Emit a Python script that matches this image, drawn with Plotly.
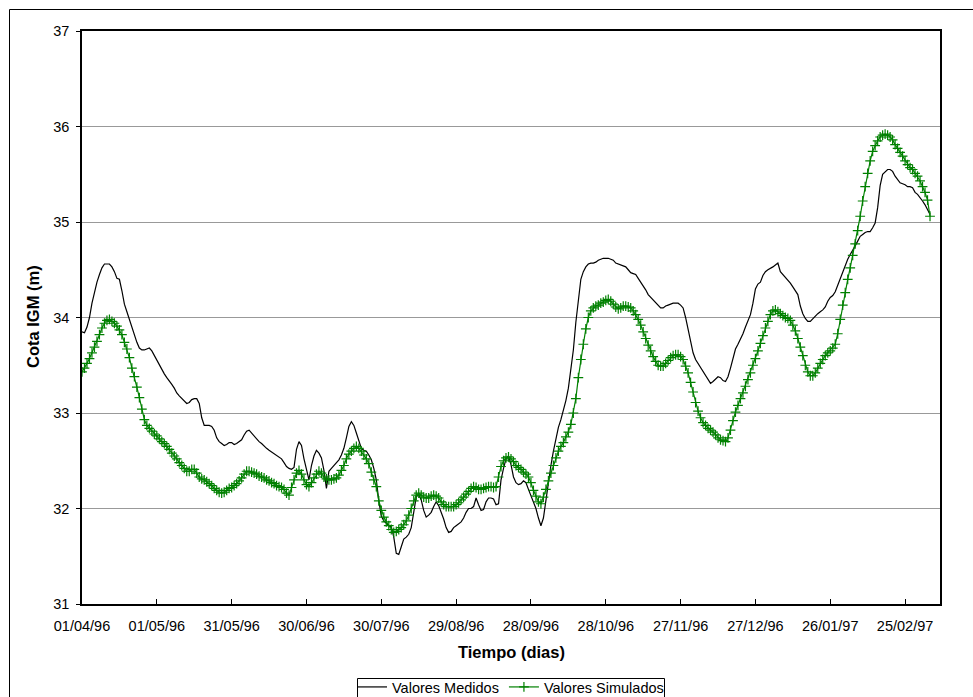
import datetime as dt
import plotly.graph_objects as go

# Daily water level series, starting 01/04/96
start_date = dt.date(1996, 4, 1)

medidos = [
    33.85, 33.84, 33.90, 34.00, 34.15, 34.27, 34.37, 34.45, 34.52, 34.56,
    34.56, 34.56, 34.53, 34.48, 34.41, 34.40, 34.28, 34.14, 34.06, 33.98,
    33.89, 33.81, 33.74, 33.68, 33.66, 33.66, 33.67, 33.68, 33.65, 33.60,
    33.55, 33.51, 33.46, 33.41, 33.37, 33.34, 33.30, 33.26, 33.21, 33.18,
    33.15, 33.12, 33.10, 33.11, 33.14, 33.15, 33.15, 33.10, 32.95, 32.87,
    32.87, 32.87, 32.86, 32.82, 32.74, 32.70, 32.68, 32.66, 32.67, 32.69,
    32.69, 32.67, 32.68, 32.70, 32.72, 32.77, 32.81, 32.82, 32.79, 32.75,
    32.72, 32.70, 32.68, 32.65, 32.63, 32.61, 32.59, 32.58, 32.56, 32.54,
    32.52, 32.48, 32.44, 32.42, 32.41, 32.43, 32.62, 32.70, 32.66, 32.52,
    32.40, 32.30, 32.45, 32.55, 32.61, 32.58, 32.53, 32.40, 32.21, 32.39,
    32.42, 32.45, 32.48, 32.51, 32.56, 32.63, 32.74, 32.86, 32.91, 32.87,
    32.79, 32.70, 32.63, 32.61, 32.60, 32.56, 32.51, 32.42, 32.30, 32.08,
    31.92, 31.87, 31.84, 31.82, 31.81, 31.70, 31.53, 31.52, 31.60, 31.68,
    31.70, 31.73, 31.80, 31.98, 32.12, 32.15, 32.09, 31.98, 31.91, 31.93,
    31.96, 32.02, 32.07, 32.03, 31.97, 31.89, 31.80, 31.75, 31.76, 31.80,
    31.82, 31.84, 31.86, 31.90, 31.96, 32.00, 32.00, 32.02, 32.11, 32.04,
    31.98, 31.99, 32.07, 32.11, 32.11, 32.10, 32.04, 32.05, 32.30, 32.42,
    32.52, 32.55, 32.46, 32.33, 32.27, 32.25, 32.26, 32.29, 32.27, 32.20,
    32.13, 32.07, 32.00, 31.90, 31.82, 31.90, 32.10, 32.30, 32.45, 32.60,
    32.72, 32.85, 32.93, 33.02, 33.13, 33.26, 33.45, 33.66, 33.95, 34.20,
    34.40, 34.48, 34.53, 34.56, 34.57, 34.57, 34.58, 34.60, 34.61, 34.62,
    34.62, 34.62, 34.61, 34.60, 34.57, 34.56, 34.55, 34.54, 34.53, 34.50,
    34.47, 34.46, 34.45, 34.41, 34.37, 34.34, 34.29, 34.24, 34.21, 34.18,
    34.16, 34.12, 34.10, 34.10, 34.12, 34.13, 34.14, 34.15, 34.15, 34.15,
    34.13, 34.10, 34.00, 33.87, 33.75, 33.63, 33.56, 33.52, 33.47, 33.43,
    33.39, 33.35, 33.31, 33.33, 33.36, 33.38, 33.37, 33.34, 33.33, 33.38,
    33.47, 33.58, 33.67, 33.72, 33.77, 33.83, 33.90, 33.96, 34.03, 34.15,
    34.30, 34.35, 34.37, 34.44, 34.48, 34.50, 34.52, 34.53, 34.55, 34.57,
    34.48, 34.45, 34.43, 34.40, 34.36, 34.32, 34.28, 34.24, 34.12, 34.04,
    33.99, 33.96, 33.96, 33.99, 34.02, 34.04, 34.06, 34.08, 34.11, 34.17,
    34.21, 34.23, 34.27, 34.34, 34.40, 34.47, 34.55, 34.61, 34.66, 34.70,
    34.75, 34.80, 34.85, 34.87, 34.89, 34.90, 34.90, 34.94, 34.99, 35.15,
    35.38, 35.50, 35.53, 35.55, 35.55, 35.53, 35.48, 35.44, 35.41, 35.40,
    35.39, 35.37, 35.37, 35.36, 35.31, 35.29, 35.26, 35.22, 35.18, 35.13,
    35.08,
]

simulados = [
    33.43, 33.47, 33.52, 33.57, 33.63, 33.69, 33.75, 33.82, 33.89, 33.94,
    33.97, 33.98, 33.96, 33.94, 33.91, 33.87, 33.82, 33.74, 33.67, 33.58,
    33.47, 33.38, 33.27, 33.16, 33.04, 32.93, 32.87, 32.84, 32.81, 32.78,
    32.76, 32.73, 32.70, 32.68, 32.65, 32.62, 32.58, 32.55, 32.52, 32.48,
    32.45, 32.42, 32.39, 32.39, 32.41, 32.41, 32.37, 32.33, 32.31, 32.30,
    32.28, 32.26, 32.24, 32.21, 32.19, 32.17, 32.16, 32.17, 32.19, 32.21,
    32.22, 32.24, 32.26, 32.29, 32.32, 32.36, 32.39, 32.39, 32.38, 32.37,
    32.36, 32.34, 32.33, 32.32, 32.30, 32.29, 32.27, 32.26, 32.24, 32.23,
    32.22, 32.20, 32.16, 32.14, 32.22, 32.30, 32.37, 32.40, 32.36, 32.30,
    32.25, 32.23, 32.27, 32.32, 32.36, 32.39, 32.37, 32.33, 32.31, 32.30,
    32.30, 32.31, 32.32, 32.35, 32.40, 32.45, 32.52, 32.57, 32.60, 32.63,
    32.65, 32.63, 32.60, 32.56, 32.52, 32.47, 32.38, 32.30, 32.23, 32.08,
    31.98, 31.91, 31.86, 31.82, 31.78, 31.75, 31.76, 31.78, 31.80, 31.83,
    31.87, 31.93, 32.00, 32.08, 32.14, 32.16, 32.14, 32.12, 32.11, 32.11,
    32.13, 32.14, 32.13, 32.11, 32.07, 32.04, 32.02, 32.02, 32.02, 32.02,
    32.04, 32.06, 32.09, 32.12, 32.15, 32.18, 32.21, 32.23, 32.22, 32.20,
    32.20, 32.21, 32.22, 32.23, 32.23, 32.22, 32.23, 32.33, 32.44, 32.50,
    32.53, 32.54, 32.52, 32.49, 32.45, 32.43, 32.41, 32.38, 32.36, 32.33,
    32.27, 32.19, 32.13, 32.07, 32.05, 32.12, 32.20, 32.29, 32.37, 32.45,
    32.53, 32.60, 32.65, 32.69, 32.75, 32.80, 32.88, 33.00, 33.15, 33.37,
    33.56, 33.72, 33.88, 34.00, 34.07, 34.10, 34.12, 34.13, 34.15, 34.16,
    34.18, 34.19, 34.17, 34.14, 34.11, 34.09, 34.10, 34.12, 34.12, 34.11,
    34.10, 34.07, 34.03, 33.98, 33.92, 33.85, 33.78, 33.71, 33.65, 33.59,
    33.54, 33.50, 33.49, 33.49, 33.52, 33.55, 33.58, 33.60, 33.61, 33.61,
    33.59, 33.56, 33.49, 33.42, 33.32, 33.22, 33.11, 33.02, 32.95, 32.90,
    32.87, 32.84, 32.82, 32.80, 32.77, 32.74, 32.72, 32.71, 32.70, 32.74,
    32.82, 32.92, 33.01, 33.08, 33.15, 33.21, 33.28, 33.35, 33.42, 33.50,
    33.57, 33.65, 33.73, 33.81, 33.89, 33.96, 34.03, 34.07, 34.08, 34.06,
    34.04, 34.02, 34.00, 33.99, 33.97, 33.92, 33.86, 33.78, 33.69, 33.60,
    33.50, 33.43, 33.39, 33.39, 33.42, 33.47, 33.52, 33.56, 33.60, 33.63,
    33.65, 33.68, 33.72, 33.83, 33.98, 34.13, 34.26, 34.40, 34.52, 34.65,
    34.77, 34.91, 35.06, 35.22, 35.37, 35.51, 35.64, 35.74, 35.80, 35.85,
    35.89, 35.91, 35.92, 35.91, 35.89, 35.86, 35.81, 35.77, 35.73, 35.69,
    35.64, 35.60, 35.57, 35.55, 35.51, 35.48, 35.43, 35.37, 35.31, 35.23,
    35.06,
]

# Axis settings: 30-day major unit, date span of the category axis
tick_step_days = 30
n_ticks = 12
axis_span_days = 344

fechas = [start_date + dt.timedelta(days=i) for i in range(len(medidos))]
tick_dates = [start_date + dt.timedelta(days=tick_step_days * k) for k in range(n_ticks)]
tick_text = [d.strftime("%d/%m/%y") for d in tick_dates]

FONT = "Liberation Sans, Arial, sans-serif"
GREEN = "#008000"

fig = go.Figure()
fig.add_trace(go.Scatter(
    x=fechas, y=medidos, mode="lines", name="Valores Medidos",
    line=dict(color="black", width=1.2),
))
fig.add_trace(go.Scatter(
    x=fechas, y=simulados, mode="lines+markers", name="Valores Simulados",
    line=dict(color=GREEN, width=1.2),
    marker=dict(symbol="cross-thin", size=7, color=GREEN,
                line=dict(color=GREEN, width=1.2)),
))

L, R, T, B = 82, 33, 31, 93
W, H = 973, 697
pw, ph = W - L - R, H - T - B

def px_x(px):
    return (px - L) / pw

def px_y(py):
    return (H - B - py) / ph

fig.update_layout(
    width=W, height=H,
    margin=dict(l=L, r=R, t=T, b=B, autoexpand=False),
    paper_bgcolor="white", plot_bgcolor="white",
    font=dict(family=FONT, size=14.5, color="black"),
    showlegend=True,
    legend=dict(
        orientation="h", x=px_x(510.5), xanchor="center",
        y=px_y(671), yanchor="top",
        borderwidth=0, bgcolor="rgba(0,0,0,0)",
        font=dict(family=FONT, size=14.5, color="black"),
        itemwidth=30, tracegroupgap=0,
    ),
    xaxis=dict(
        type="date",
        range=[start_date, start_date + dt.timedelta(days=axis_span_days)],
        tickvals=tick_dates, ticktext=tick_text,
        ticks="inside", ticklen=5, tickcolor="black", tickwidth=1,
        showgrid=False, zeroline=False,
        showline=True, linecolor="black", linewidth=1.5, mirror=True,
        ticklabelstandoff=8,
    ),
    yaxis=dict(
        range=[31, 37], dtick=1, tick0=31,
        ticks="outside", ticklen=4, tickcolor="black", tickwidth=1,
        showgrid=True, gridcolor="#999999", gridwidth=1,
        zeroline=False,
        showline=True, linecolor="black", linewidth=1.5, mirror=True,
        ticklabelstandoff=4,
    ),
    annotations=[
        dict(text="<b>Tiempo (dias)</b>", x=px_x(511), y=px_y(652),
             xref="paper", yref="paper", showarrow=False,
             xanchor="center", yanchor="middle",
             font=dict(family=FONT, size=16.5, color="black")),
        dict(text="<b>Cota IGM (m)</b>", x=px_x(33), y=px_y(317),
             xref="paper", yref="paper", showarrow=False, textangle=-90,
             xanchor="center", yanchor="middle",
             font=dict(family=FONT, size=16.5, color="black")),
    ],
    shapes=[
        # chart frame (extends past the right and bottom page edges)
        dict(type="rect", xref="paper", yref="paper",
             x0=px_x(9.5), x1=px_x(1000), y0=px_y(720), y1=px_y(9.5),
             line=dict(color="black", width=1), fillcolor="rgba(0,0,0,0)",
             layer="below"),
        # legend frame
        dict(type="rect", xref="paper", yref="paper",
             x0=px_x(357.5), x1=px_x(664.5), y0=px_y(712), y1=px_y(678.5),
             line=dict(color="black", width=1), fillcolor="white",
             layer="below"),
    ],
)

fig.write_html("out.html")
